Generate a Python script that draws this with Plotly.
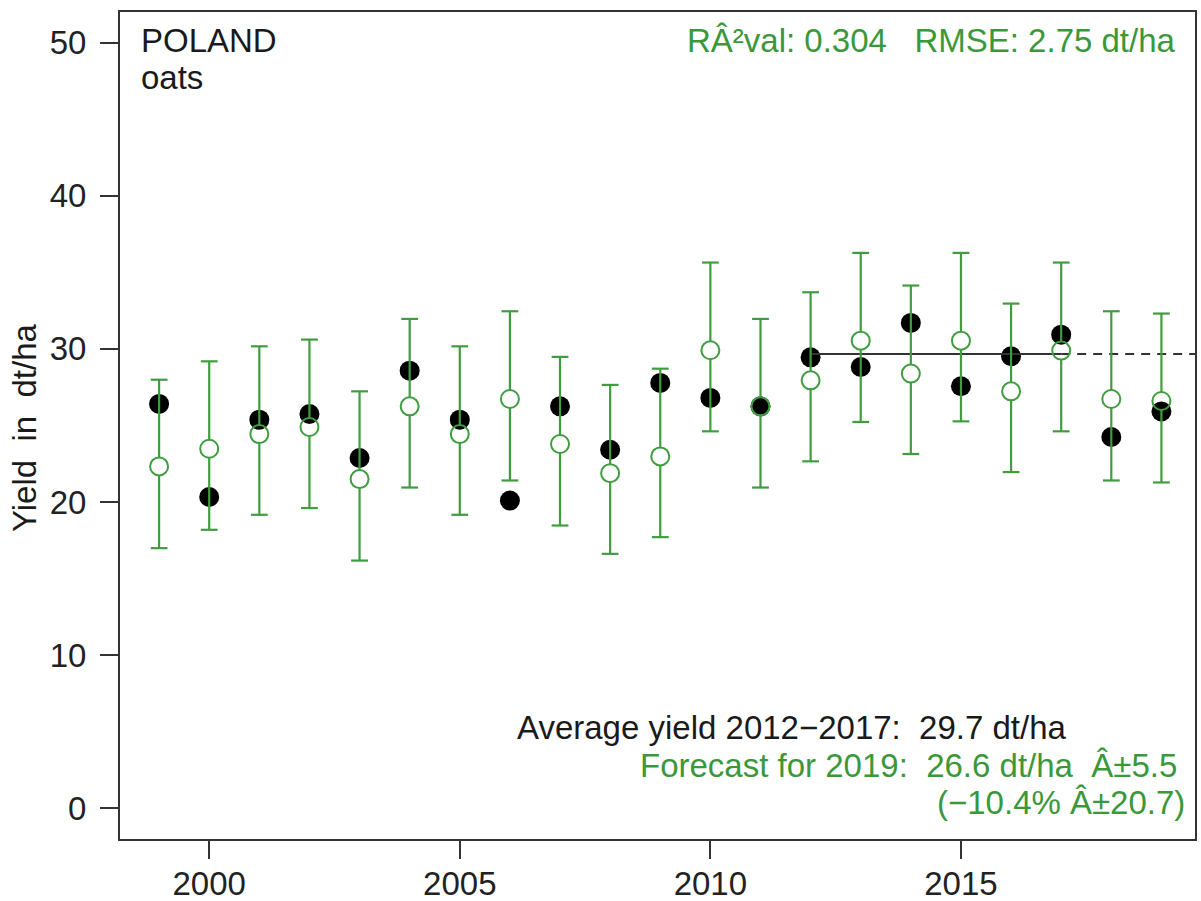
import plotly.graph_objects as go

# ---------------- data ----------------
years = list(range(1999, 2020))
observed = [26.41, 20.33, 25.38, 25.75, 22.88, 28.58, 25.38, 20.10, 26.25, 23.42,
            27.78, 26.80, 26.25, 29.45, 28.82, 31.70, 27.56, 29.52, 30.93, 24.25, 25.92]
predicted = [22.33, 23.48, 24.44, 24.90, 21.50, 26.25, 24.44, 26.73, 23.79, 21.89,
             22.98, 29.91, 26.25, 27.95, 30.54, 28.39, 30.54, 27.23, 29.89, 26.73, 26.60]
upper = [27.99, 29.19, 30.17, 30.61, 27.23, 31.96, 30.17, 32.46, 29.48, 27.65,
         28.71, 35.64, 31.96, 33.70, 36.27, 34.14, 36.27, 32.96, 35.64, 32.46, 32.31]
lower = [16.99, 18.19, 19.17, 19.61, 16.18, 20.95, 19.17, 21.41, 18.47, 16.62,
         17.71, 24.62, 20.95, 22.66, 25.23, 23.14, 25.27, 21.96, 24.62, 21.41, 21.28]
avg_start, avg_end = 2012, 2017
y_ticks = [0, 10, 20, 30, 40, 50]
x_ticks = [2000, 2005, 2010, 2015]

country = "POLAND"
crop = "oats"
stats_text = "RÂ²val: 0.304\u00a0\u00a0\u00a0RMSE: 2.75 dt/ha"
avg_text = "Average yield 2012\u22122017:\u00a0\u00a029.7 dt/ha"
fc_text = "Forecast for 2019:\u00a0\u00a026.6 dt/ha\u00a0\u00a0Â±5.5"
pct_text = "(\u221210.4% Â±20.7)"
y_title = "Yield\u00a0\u00a0in\u00a0\u00a0dt/ha"

# ---------------- style / layout ----------------
W, H = 1201, 901
ML, MR, MT, MB = 120, 6, 12, 62
PW, PH = W - ML - MR, H - MT - MB
XR = [1998.22, 2019.67]
YR = [-2, 52]
GREEN = "#3f9d3f"
TXTGREEN = "#3a983a"
FONT = "Liberation Sans, Arial, Helvetica, sans-serif"
FS = 33
RING = 18

avg_val = sum(o for y, o in zip(years, observed) if avg_start <= y <= avg_end) / \
    sum(1 for y in years if avg_start <= y <= avg_end)

# gap (in data units) so error lines stop at the ring edge
gap = (RING / 2) * (YR[1] - YR[0]) / PH

seg_x, seg_y = [], []
for yr, p, lo, hi in zip(years, predicted, lower, upper):
    seg_x += [yr, yr, None, yr, yr, None]
    seg_y += [lo, p - gap, None, p + gap, hi, None]

fig = go.Figure()

# observed yields (black dots)
fig.add_trace(go.Scatter(x=years, y=observed, mode="markers",
                         marker=dict(color="black", size=20), showlegend=False))

# average line (solid over period, dashed afterwards)
fig.add_trace(go.Scatter(x=[avg_start, avg_end], y=[avg_val, avg_val], mode="lines",
                         line=dict(color="#333333", width=2), showlegend=False))
fig.add_trace(go.Scatter(x=[avg_end, XR[1]], y=[avg_val, avg_val], mode="lines",
                         line=dict(color="#333333", width=2, dash="9px,7px"),
                         showlegend=False))

# error bar lines
fig.add_trace(go.Scatter(x=seg_x, y=seg_y, mode="lines",
                         line=dict(color=GREEN, width=2.2), showlegend=False))
# caps
for arr in (upper, lower):
    fig.add_trace(go.Scatter(x=years, y=arr, mode="markers",
                             marker=dict(symbol="line-ew", size=12,
                                         line=dict(color=GREEN, width=2.2)),
                             showlegend=False))
# predicted (open circles)
fig.add_trace(go.Scatter(x=years, y=predicted, mode="markers",
                         marker=dict(symbol="circle-open", size=RING, color=GREEN,
                                     line=dict(width=2)),
                         showlegend=False))


def px_x(px):
    return (px - ML) / PW


def px_y(py):
    return (H - MB - py) / PH


ann = []
ann.append(dict(text=country, x=px_x(139), y=px_y(40), xanchor="left", yanchor="middle",
                font=dict(color="#1a1a1a")))
ann.append(dict(text=crop, x=px_x(139), y=px_y(77), xanchor="left", yanchor="middle",
                font=dict(color="#1a1a1a")))
ann.append(dict(text=stats_text, x=px_x(1178), y=px_y(41), xanchor="right",
                yanchor="middle", font=dict(color=TXTGREEN)))
ann.append(dict(text=avg_text, x=px_x(1069), y=px_y(727), xanchor="right",
                yanchor="middle", font=dict(color="#1a1a1a")))
ann.append(dict(text=fc_text, x=px_x(1179), y=px_y(765), xanchor="right",
                yanchor="middle", font=dict(color=TXTGREEN)))
ann.append(dict(text=pct_text, x=px_x(1187), y=px_y(802), xanchor="right",
                yanchor="middle", font=dict(color=TXTGREEN)))
ann.append(dict(text=y_title, x=px_x(24), y=px_y(428), xanchor="center",
                yanchor="middle", textangle=-90, font=dict(color="#1a1a1a")))
for a in ann:
    a.update(xref="paper", yref="paper", showarrow=False)
    a["font"].update(family=FONT, size=FS)

axis_common = dict(showgrid=False, zeroline=False, showline=True, mirror=True,
                   linecolor="#333333", linewidth=2, ticks="outside", ticklen=18,
                   tickwidth=2, tickcolor="#333333",
                   tickfont=dict(family=FONT, size=FS, color="#222222"))

fig.update_layout(
    width=W, height=H,
    margin=dict(l=ML, r=MR, t=MT, b=MB, pad=0, autoexpand=False),
    paper_bgcolor="white", plot_bgcolor="white",
    xaxis=dict(range=XR, tickvals=x_ticks, ticklabelstandoff=-4, automargin=False,
               **axis_common),
    yaxis=dict(range=YR, tickvals=y_ticks, ticklabelstandoff=7, automargin=False,
               **axis_common),
    annotations=ann,
    showlegend=False,
)

fig.write_html("out.html",
               config={"displayModeBar": False},
               post_script="document.body.style.margin='0';"
                           "document.body.style.overflow='hidden';")
